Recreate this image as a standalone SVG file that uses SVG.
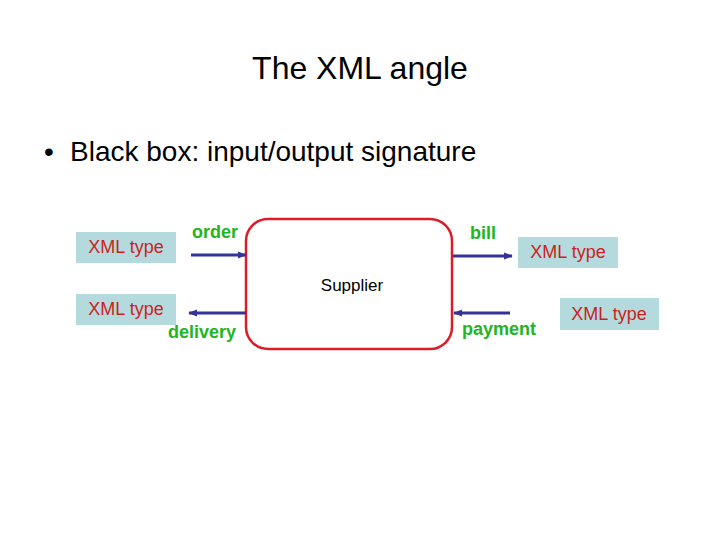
<svg xmlns="http://www.w3.org/2000/svg" width="720" height="540" viewBox="0 0 720 540">
<style>
.t{font-family:"Liberation Sans",Arial,sans-serif}
.xb{fill:#b5dadd}
.xt{font-family:"Liberation Sans",Arial,sans-serif;font-size:18px;fill:#cc1f1f;text-anchor:middle}
.lb{font-family:"Liberation Sans",Arial,sans-serif;font-size:18px;font-weight:bold;fill:#22b522}
.ar{stroke:#333399;stroke-width:3;fill:none;marker-end:url(#ah)}
</style>
<defs><marker id="ah" viewBox="0 0 10 10" refX="9" refY="5" markerWidth="3" markerHeight="3" orient="auto"><path d="M0,1L10,5L0,9z" fill="#333399"/></marker></defs>
<rect width="720" height="540" fill="#fff"/>
<text class="t" x="360" y="79" font-size="32" text-anchor="middle">The XML angle</text>
<text class="t" x="44" y="161" font-size="28">•</text>
<text class="t" x="70" y="161" font-size="28">Black box: input/output signature</text>
<g id="supplier"><rect x="246" y="219" width="206" height="130" rx="22" fill="#fff" stroke="#dd1c2a" stroke-width="2.5"/>
<text class="t" x="352" y="291" font-size="17" text-anchor="middle">Supplier</text></g>
<g id="x1"><rect class="xb" x="76" y="232" width="100" height="31"/><text class="xt" x="126" y="253">XML type</text></g>
<g id="x2"><rect class="xb" x="76" y="294" width="100" height="31"/><text class="xt" x="126" y="315">XML type</text></g>
<g id="x3"><rect class="xb" x="518" y="237" width="100" height="31"/><text class="xt" x="568" y="258">XML type</text></g>
<g id="x4"><rect class="xb" x="560" y="298" width="99" height="32"/><text class="xt" x="609" y="320">XML type</text></g>
<g id="connectors">
<line class="ar" x1="191" y1="255" x2="246" y2="255"/>
<line class="ar" x1="453" y1="256" x2="512" y2="256"/>
<line class="ar" x1="246" y1="313" x2="189" y2="313"/>
<line class="ar" x1="510" y1="313" x2="454" y2="313"/>
</g>
<text class="lb" x="192" y="238">order</text>
<text class="lb" x="470" y="239">bill</text>
<text class="lb" x="168" y="338">delivery</text>
<text class="lb" x="462" y="335">payment</text>
</svg>
